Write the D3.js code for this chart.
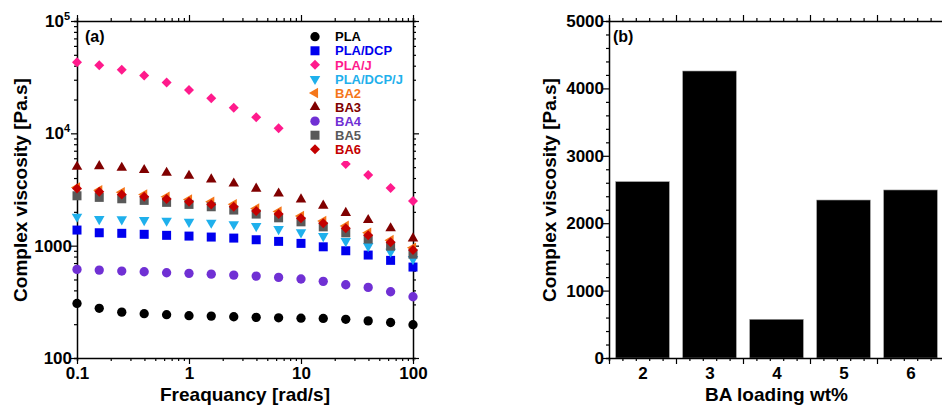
<!DOCTYPE html>
<html>
<head>
<meta charset="utf-8">
<script src="https://cdn.jsdelivr.net/npm/d3@7"></script>
<style>
  body { margin: 0; background: #fff; }
</style>
</head>
<body>
<svg id="chart" width="942" height="409"></svg>
<script>
// frequency sweep [rad/s]
const freq = [0.1, 0.158, 0.251, 0.398, 0.631, 1, 1.58, 2.51, 3.98, 6.31, 10, 15.8, 25.1, 39.8, 63.1, 100];

// complex viscosity [Pa.s]
const pla = [306, 277, 256, 248, 243, 238, 236, 233, 230, 228, 226, 225, 221, 214, 207, 198];
const plaDcp = [1377, 1303, 1288, 1262, 1236, 1217, 1193, 1168, 1129, 1092, 1048, 977, 901, 825, 740, 645];
const plaJ = [42900, 40300, 36800, 32800, 28400, 24300, 20500, 16900, 13900, 11100, 8900, 6950, 5330, 4250, 3260, 2500];
const plaDcpJ = [1810, 1725, 1715, 1690, 1665, 1630, 1600, 1550, 1495, 1405, 1313, 1217, 1098, 990, 882, 760];
const ba2 = [3300, 3120, 2990, 2850, 2720, 2580, 2460, 2340, 2140, 2010, 1840, 1660, 1500, 1300, 1120, 960];
const ba3 = [5040, 5110, 4940, 4710, 4460, 4190, 3890, 3570, 3220, 2910, 2580, 2270, 1960, 1690, 1430, 1160];
const ba4 = [615, 606, 594, 586, 574, 567, 558, 547, 536, 522, 505, 481, 449, 425, 389, 351];
const ba5 = [2780, 2690, 2615, 2530, 2430, 2330, 2220, 2075, 1910, 1770, 1630, 1470, 1300, 1145, 990, 840];
const ba6 = [3225, 3020, 2860, 2725, 2600, 2460, 2330, 2220, 2030, 1910, 1750, 1580, 1430, 1240, 1070, 914];

// panel (b)
const loading = [2, 3, 4, 5, 6];
const loadingViscosity = [2616, 4258, 574, 2344, 2493];

const yTickLabels = { 100: '100', 1000: '1000', 10000: ['10', '4'], 100000: ['10', '5'] };

const FONT = '"Liberation Sans", Arial, sans-serif';

const series = [
  { name: 'PLA', values: pla, color: '#000000', shape: 'circle' },
  { name: 'PLA/DCP', values: plaDcp, color: '#0000ee', shape: 'square' },
  { name: 'PLA/J', values: plaJ, color: '#ff1a8c', shape: 'diamond' },
  { name: 'PLA/DCP/J', values: plaDcpJ, color: '#1fb0ec', shape: 'down' },
  { name: 'BA2', values: ba2, color: '#f5761a', shape: 'left' },
  { name: 'BA3', values: ba3, color: '#800000', shape: 'up' },
  { name: 'BA4', values: ba4, color: '#7030d4', shape: 'circle' },
  { name: 'BA5', values: ba5, color: '#595959', shape: 'square' },
  { name: 'BA6', values: ba6, color: '#c40000', shape: 'diamond' },
];

const svg = d3.select('#chart');
svg.append('rect').attr('width', 942).attr('height', 409).attr('fill', '#fff');

function markerPath(shape) {
  if (shape === 'circle') return d3.symbol(d3.symbolCircle, 68)();
  if (shape === 'square') return d3.symbol(d3.symbolSquare, 81)();
  if (shape === 'diamond') return d3.symbol(d3.symbolSquare, 50)();
  return d3.symbol(d3.symbolTriangle, 48)();
}
function markerRotate(shape) {
  return { diamond: 45, down: 180, left: -90 }[shape] || 0;
}

function styleAxis(g, size) {
  g.select('.domain').attr('stroke', '#000').attr('stroke-width', 1.5);
  g.selectAll('.tick line').attr('stroke', '#000').attr('stroke-width', 1.2);
  g.selectAll('text')
    .attr('font-family', FONT)
    .attr('font-weight', 'bold')
    .attr('font-size', size || 17)
    .attr('fill', '#000');
}

// make major ticks longer
function lengthen(g, isMajor, orient, len) {
  const attr = orient === 'bottom' || orient === 'top' ? 'y2' : 'x2';
  const sign = orient === 'bottom' || orient === 'right' ? 1 : -1;
  g.selectAll('.tick').filter(isMajor).select('line').attr(attr, sign * len);
}

// ---------- panel (a) ----------
const xL = d3.scaleLog().domain([0.1, 100]).range([77, 413]);
const yL = d3.scaleLog().domain([100, 100000]).range([358, 21]);
const isDecade = d => Math.abs(Math.log10(d) - Math.round(Math.log10(d))) < 1e-6;

const gA = svg.append('g');

const axB = gA.append('g').attr('transform', 'translate(0,358)')
  .call(d3.axisBottom(xL).tickValues(xL.ticks()).tickSize(3).tickPadding(5.5)
    .tickFormat(d => (isDecade(d) ? d3.format('~g')(d) : '')));
lengthen(axB, isDecade, 'bottom', 6);
styleAxis(axB);

const axT = gA.append('g').attr('transform', 'translate(0,21)')
  .call(d3.axisTop(xL).tickValues(xL.ticks()).tickSize(3).tickFormat(''));
lengthen(axT, isDecade, 'top', 6);
styleAxis(axT);

const axL = gA.append('g').attr('transform', 'translate(77,0)')
  .call(d3.axisLeft(yL).tickValues(yL.ticks()).tickSize(3).tickPadding(2).tickFormat(''));
lengthen(axL, isDecade, 'left', 6);
styleAxis(axL);
axL.selectAll('.tick').filter(isDecade).select('text').each(function (d) {
  const lab = yTickLabels[Math.round(d)];
  const t = d3.select(this);
  if (Array.isArray(lab)) {
    t.attr('x', -7);
    t.append('tspan').text(lab[0]);
    t.append('tspan').attr('font-size', 11).attr('dy', '-0.65em').text(lab[1]);
  } else {
    t.text(lab);
  }
});

const axR = gA.append('g').attr('transform', 'translate(413,0)')
  .call(d3.axisRight(yL).tickValues(yL.ticks()).tickSize(3).tickFormat(''));
lengthen(axR, isDecade, 'right', 6);
styleAxis(axR);

series.forEach(s => {
  gA.append('g')
    .selectAll('path')
    .data(s.values)
    .join('path')
    .attr('d', markerPath(s.shape))
    .attr('fill', s.color)
    .attr('transform', (v, i) => `translate(${xL(freq[i])},${yL(v)}) rotate(${markerRotate(s.shape)})`);
});

// legend (white box hides the points behind it)
const legend = gA.append('g');
legend.append('rect').attr('x', 293).attr('y', 27).attr('width', 117).attr('height', 134).attr('fill', '#fff');
const rowY = d3.scaleLinear().domain([0, series.length - 1]).range([36.7, 149.3]);
series.forEach((s, i) => {
  legend.append('path')
    .attr('d', markerPath(s.shape))
    .attr('fill', s.color)
    .attr('transform', `translate(315,${rowY(i)}) rotate(${markerRotate(s.shape)})`);
  legend.append('text')
    .attr('x', 335)
    .attr('y', rowY(i) + 4.7)
    .attr('font-family', FONT)
    .attr('font-weight', 'bold')
    .attr('font-size', 13)
    .attr('fill', s.color)
    .text(s.name);
});

gA.append('text').attr('x', 85).attr('y', 42)
  .attr('font-family', FONT).attr('font-weight', 'bold').attr('font-size', 16)
  .text('(a)');

gA.append('text')
  .attr('transform', 'translate(27,190) rotate(-90)')
  .attr('text-anchor', 'middle')
  .attr('font-family', FONT).attr('font-weight', 'bold').attr('font-size', 19)
  .text('Complex viscosity [Pa.s]');

gA.append('text')
  .attr('x', 245).attr('y', 401)
  .attr('text-anchor', 'middle')
  .attr('font-family', FONT).attr('font-weight', 'bold').attr('font-size', 19)
  .text('Freaquancy [rad/s]');

// ---------- panel (b) ----------
const xR = d3.scaleLinear().domain([1.5, 6.5]).range([609, 944]);
const yR = d3.scaleLinear().domain([0, 5000]).range([358, 21]);
const gB = svg.append('g');

gB.append('g')
  .selectAll('rect')
  .data(loadingViscosity)
  .join('rect')
  .attr('x', (v, i) => xR(loading[i] - 0.4))
  .attr('width', xR(1.9) - xR(1.1))
  .attr('y', v => yR(v))
  .attr('height', v => yR(0) - yR(v))
  .attr('fill', '#000')
  .attr('stroke', '#9a9a9a')
  .attr('stroke-width', 0.6);

const xTicksR = d3.range(0, 26).map(k => 1.5 + k * 0.2);
const isMajorX = (d, i) => i % 5 === 0;

const bB = gB.append('g').attr('transform', 'translate(0,358)')
  .call(d3.axisBottom(xR).tickValues(xTicksR).tickSize(3).tickFormat(''));
lengthen(bB, isMajorX, 'bottom', 6);
styleAxis(bB);

const bLab = gB.append('g').attr('transform', 'translate(0,358)')
  .call(d3.axisBottom(xR).tickValues(loading).tickSize(0).tickPadding(8.5).tickFormat(d3.format('d')));
bLab.select('.domain').remove();
styleAxis(bLab);

const bT = gB.append('g').attr('transform', 'translate(0,21)')
  .call(d3.axisTop(xR).tickValues(xTicksR).tickSize(3).tickFormat(''));
lengthen(bT, isMajorX, 'top', 6);
styleAxis(bT);

const yTicksR = d3.range(0, 5001, 200);
const isMajorY = d => d % 1000 === 0;
const bL = gB.append('g').attr('transform', 'translate(609,0)')
  .call(d3.axisLeft(yR).tickValues(yTicksR).tickSize(3).tickPadding(2)
    .tickFormat(d => (isMajorY(d) ? String(d) : '')));
lengthen(bL, isMajorY, 'left', 6);
styleAxis(bL);

const bR = gB.append('g').attr('transform', 'translate(944,0)')
  .call(d3.axisRight(yR).tickValues(yTicksR).tickSize(3).tickFormat(''));
styleAxis(bR);

gB.append('text').attr('x', 613).attr('y', 42)
  .attr('font-family', FONT).attr('font-weight', 'bold').attr('font-size', 16)
  .text('(b)');

gB.append('text')
  .attr('transform', 'translate(556,190) rotate(-90)')
  .attr('text-anchor', 'middle')
  .attr('font-family', FONT).attr('font-weight', 'bold').attr('font-size', 19)
  .text('Complex viscosity [Pa.s]');

gB.append('text')
  .attr('x', 776.5).attr('y', 401)
  .attr('text-anchor', 'middle')
  .attr('font-family', FONT).attr('font-weight', 'bold').attr('font-size', 19)
  .text('BA loading wt%');
</script>
</body>
</html>
